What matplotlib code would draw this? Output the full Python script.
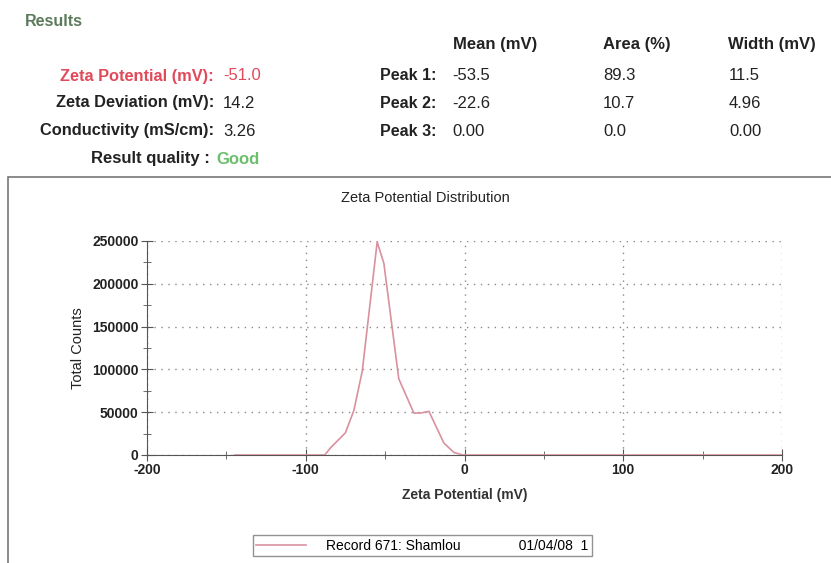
import matplotlib
matplotlib.use("Agg")
import matplotlib.pyplot as plt
from matplotlib.patches import Rectangle
from matplotlib.ticker import MultipleLocator

plt.rcParams['font.family'] = ['Liberation Sans', 'DejaVu Sans']
plt.rcParams['axes.unicode_minus'] = False

# distribution
zeta_mv = [-145, -88, -84.5, -75, -69.7, -64.4, -55, -50.8, -41.4, -31.9,
           -27.7, -22.4, -13, -6.7, -1, 200]
total_counts = [0, 0, 8200, 26000, 52000, 98000, 249000, 224000, 89000, 49000,
                49000, 51000, 14000, 3000, 0, 0]

# results table
summary_labels = ['Zeta Potential (mV):', 'Zeta Deviation (mV):', 'Conductivity (mS/cm):']
summary_values = ['-51.0', '14.2', '3.26']
peak_labels = ['Peak 1:', 'Peak 2:', 'Peak 3:']
peak_headers = ['Mean (mV)', 'Area (%)', 'Width (mV)']
peak_mean = ['-53.5', '-22.6', '0.00']
peak_area = ['89.3', '10.7', '0.0']
peak_width = ['11.5', '4.96', '0.00']
record_label = 'Record 671: Shamlou               01/04/08  1'

W, H = 831, 563
fig = plt.figure(figsize=(W / 100, H / 100), dpi=100)


def px(x, y):
    return x / W, 1 - y / H


def put(x, y, s, ha='left', **kw):
    kw.setdefault('fontsize', 12)
    kw.setdefault('fontweight', 'bold')
    kw.setdefault('color', '#222222')
    fig.text(*px(x, y), s, ha=ha, va='center', **kw)


# header block
put(25, 22, 'Results', color='#5b7a5b', fontsize=11.5)
for x, h in zip([453, 603, 728], peak_headers):
    put(x, 45, h)
rows_y = [76, 103, 131]
for i, y in enumerate(rows_y):
    col = '#e04a5a' if i == 0 else '#222222'
    put(214, y, summary_labels[i], ha='right', color=col, fontsize=11.8)
    put(223, y, summary_values[i], color=col, fontweight='normal')
    put(436, y, peak_labels[i], ha='right', fontsize=11.5)
    put(452, y, peak_mean[i], fontweight='normal')
    put(603, y, peak_area[i], fontweight='normal')
    put(729, y, peak_width[i], fontweight='normal')
put(210, 159, 'Result quality :', ha='right')
put(216, 159, 'Good', color='#6cbf6c')

# chart frame
fig.add_artist(Rectangle(px(8, 600), (W + 20) / W, (600 - 177) / H,
                         transform=fig.transFigure, fill=False,
                         edgecolor='#777777', lw=1.2, clip_on=False))

ax = fig.add_axes([147 / W, 1 - 455 / H, (782 - 147) / W, (455 - 241) / H])
ax.plot(zeta_mv, total_counts, color='#d9909f', lw=1.2, label=record_label, zorder=3)

ax.set_xlim(-200, 200)
ax.set_ylim(0, 250000)
ax.xaxis.set_major_locator(MultipleLocator(100))
ax.xaxis.set_minor_locator(MultipleLocator(50))
ax.yaxis.set_major_locator(MultipleLocator(50000))
ax.yaxis.set_minor_locator(MultipleLocator(25000))
ax.grid(True, which='major', color='#888888', linestyle=(0, (1, 4)), lw=1)
for s in ['top', 'right']:
    ax.spines[s].set_visible(False)
for s in ['left', 'bottom']:
    ax.spines[s].set_color('#555555')
ax.tick_params(which='major', direction='inout', length=8, color='#555555',
               labelsize=10)
ax.tick_params(which='minor', direction='inout', length=6, color='#555555')
ax.tick_params(axis='x', pad=2)
ax.tick_params(axis='y', pad=2)
for lab in ax.get_xticklabels() + ax.get_yticklabels():
    lab.set_fontweight('bold')
    lab.set_color('#222222')

fig.text(*px(425, 198), 'Zeta Potential Distribution', ha='center', va='center',
         fontsize=10.5, color='#222222')
ax.set_xlabel('Zeta Potential (mV)', fontsize=10, fontweight='bold',
              color='#333333', labelpad=8)
ax.set_ylabel('Total Counts', fontsize=10.5, color='#222222', labelpad=5)

leg = ax.legend(loc='lower left', bbox_to_anchor=px(253, 556),
                bbox_transform=fig.transFigure, fontsize=10,
                handlelength=3.6, handletextpad=1.4, borderpad=0.25,
                frameon=True, fancybox=False, borderaxespad=0)
leg.get_frame().set_edgecolor('#777777')
leg.get_frame().set_linewidth(1)

fig.savefig('out.png', dpi=100)
